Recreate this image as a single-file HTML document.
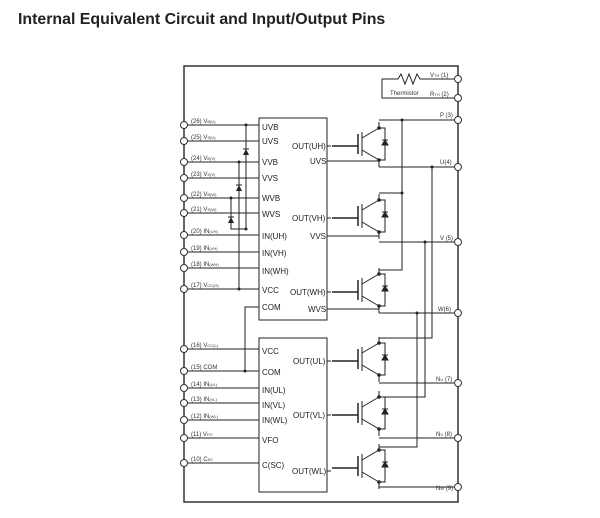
<!DOCTYPE html>
<html><head><meta charset="utf-8"><style>
body{margin:0;background:#fff;width:600px;height:518px;overflow:hidden}
svg{position:absolute;left:0;top:0}
text{font-family:"Liberation Sans",sans-serif}
.t{font-size:6px;fill:#333}
.l{font-size:8px;fill:#222}
</style></head><body>
<svg width="600" height="518" viewBox="0 0 600 518">
<defs>
<g id="ig" stroke="#222" stroke-width="1" fill="none">
<line x1="-30" y1="0" x2="-4" y2="0" stroke-width="1.5"/>
<line x1="-4" y1="-12" x2="-4" y2="8" stroke-width="1.5"/>
<line x1="0" y1="-14" x2="0" y2="10"/>
<line x1="0" y1="-8" x2="17" y2="-18"/>
<line x1="0" y1="4" x2="17" y2="14"/>
<line x1="17" y1="-18" x2="17" y2="-24"/>
<line x1="17" y1="14" x2="17" y2="21"/>
<polyline points="17,-18 23,-18 23,14 17,14"/>
<polygon points="20,-1 26,-1 23,-6" fill="#222"/>
<line x1="20" y1="-6" x2="26" y2="-6"/>
<circle cx="17" cy="-18" r="1.3" fill="#222"/>
<circle cx="17" cy="14" r="1.3" fill="#222"/>
</g>
<g id="dd"><polygon points="-3,3 3,3 0,-3" fill="#222"/><line x1="-3" y1="-3" x2="3" y2="-3" stroke="#222"/></g>
</defs>
<text x="18" y="24" font-size="15.9" font-weight="bold" fill="#222" style="font-family:'Liberation Sans',sans-serif">Internal Equivalent Circuit and Input/Output Pins</text>
<rect x="184" y="66" width="274" height="436" fill="none" stroke="#333" stroke-width="1.5"/>
<g stroke="#222" stroke-width="1" fill="none">
<rect x="259" y="118" width="68" height="202"/>
<rect x="259" y="338" width="68" height="154"/>
<path d="M184 125H259M184 141H259M184 162H259M184 178H259M184 198H259M184 213H259M184 235H259M184 252H259M184 268H259M184 289H259"/>
<path d="M184 349H259M184 371H259M184 388H259M184 403H259M184 420H259M184 438H259M184 463H259"/>
<path d="M246 125V229M239 162V289M231 198V229H246"/>
<path d="M259 307H245V371"/>
<path d="M458 79H420l-3-5-4 10-4-10-4 10-4-10-3 5H382V98H458"/>
<path d="M327 146H331M327 218H331M327 292H331M327 361H331M327 415H331M327 471H331"/>
<path d="M327 161H379M327 236H379M327 309H379"/>
<path d="M379 120H458M402 120V270H379M379 193H402"/>
<path d="M379 167H458M432 167V338H379"/>
<path d="M379 242H458M425 242V397H379"/>
<path d="M379 313H458M417 313V447H379"/>
<path d="M379 383H458M379 438H458M379 487H458"/>
</g>
<g fill="#222">
<circle cx="246" cy="125" r="1.5"/><circle cx="239" cy="162" r="1.5"/><circle cx="231" cy="198" r="1.5"/><circle cx="239" cy="289" r="1.5"/><circle cx="246" cy="229" r="1.5"/><circle cx="245" cy="371" r="1.5"/>
<circle cx="402" cy="120" r="1.5"/><circle cx="402" cy="193" r="1.5"/><circle cx="432" cy="167" r="1.5"/><circle cx="425" cy="242" r="1.5"/><circle cx="417" cy="313" r="1.5"/>
</g>
<use href="#dd" x="246" y="152"/><use href="#dd" x="239" y="188"/><use href="#dd" x="231" y="220"/>
<use href="#ig" x="362" y="146"/>
<use href="#ig" x="362" y="218"/>
<use href="#ig" x="362" y="292"/>
<use href="#ig" x="362" y="361"/>
<use href="#ig" x="362" y="415"/>
<use href="#ig" x="362" y="468"/>
<g fill="#fff" stroke="#333" stroke-width="1">
<circle cx="184" cy="125" r="3.5"/><circle cx="184" cy="141" r="3.5"/><circle cx="184" cy="162" r="3.5"/><circle cx="184" cy="178" r="3.5"/><circle cx="184" cy="198" r="3.5"/><circle cx="184" cy="213" r="3.5"/><circle cx="184" cy="235" r="3.5"/><circle cx="184" cy="252" r="3.5"/><circle cx="184" cy="268" r="3.5"/><circle cx="184" cy="289" r="3.5"/>
<circle cx="184" cy="349" r="3.5"/><circle cx="184" cy="371" r="3.5"/><circle cx="184" cy="388" r="3.5"/><circle cx="184" cy="403" r="3.5"/><circle cx="184" cy="420" r="3.5"/><circle cx="184" cy="438" r="3.5"/><circle cx="184" cy="463" r="3.5"/>
<circle cx="458" cy="79" r="3.5"/><circle cx="458" cy="98" r="3.5"/><circle cx="458" cy="120" r="3.5"/><circle cx="458" cy="167" r="3.5"/><circle cx="458" cy="242" r="3.5"/><circle cx="458" cy="313" r="3.5"/><circle cx="458" cy="383" r="3.5"/><circle cx="458" cy="438" r="3.5"/><circle cx="458" cy="487" r="3.5"/>
</g>
<g class="t">
<text x="191" y="123">(26) V<tspan font-size="4">B(U)</tspan></text>
<text x="191" y="139">(25) V<tspan font-size="4">S(U)</tspan></text>
<text x="191" y="160">(24) V<tspan font-size="4">B(V)</tspan></text>
<text x="191" y="176">(23) V<tspan font-size="4">S(V)</tspan></text>
<text x="191" y="196">(22) V<tspan font-size="4">B(W)</tspan></text>
<text x="191" y="211">(21) V<tspan font-size="4">S(W)</tspan></text>
<text x="191" y="233">(20) IN<tspan font-size="4">(UH)</tspan></text>
<text x="191" y="250">(19) IN<tspan font-size="4">(VH)</tspan></text>
<text x="191" y="266">(18) IN<tspan font-size="4">(WH)</tspan></text>
<text x="191" y="287">(17) V<tspan font-size="4">CC(H)</tspan></text>
<text x="191" y="347">(16) V<tspan font-size="4">CC(L)</tspan></text>
<text x="191" y="369">(15) COM</text>
<text x="191" y="386">(14) IN<tspan font-size="4">(UL)</tspan></text>
<text x="191" y="401">(13) IN<tspan font-size="4">(VL)</tspan></text>
<text x="191" y="418">(12) IN<tspan font-size="4">(WL)</tspan></text>
<text x="191" y="436">(11) V<tspan font-size="4">FO</tspan></text>
<text x="191" y="461">(10) C<tspan font-size="4">SC</tspan></text>
<text x="430" y="77">V<tspan font-size="4">TH</tspan> (1)</text>
<text x="390" y="95">Thermistor</text>
<text x="430" y="96">R<tspan font-size="4">TH</tspan> (2)</text>
<text x="440" y="117">P (3)</text>
<text x="440" y="164">U(4)</text>
<text x="440" y="240">V (5)</text>
<text x="438" y="311">W(6)</text>
<text x="436" y="381">N<tspan font-size="4">U</tspan> (7)</text>
<text x="436" y="436">N<tspan font-size="4">V</tspan> (8)</text>
<text x="436" y="490">N<tspan font-size="4">W</tspan> (9)</text>
</g>
<g class="l">
<text x="262" y="130">UVB</text><text x="262" y="144">UVS</text><text x="262" y="165">VVB</text><text x="262" y="181">VVS</text><text x="262" y="201">WVB</text><text x="262" y="217">WVS</text><text x="262" y="239">IN(UH)</text><text x="262" y="256">IN(VH)</text><text x="262" y="274">IN(WH)</text><text x="262" y="293">VCC</text><text x="262" y="310">COM</text>
<text x="292" y="149">OUT(UH)</text><text x="310" y="164">UVS</text><text x="292" y="221">OUT(VH)</text><text x="310" y="239">VVS</text><text x="290" y="295">OUT(WH)</text><text x="308" y="312">WVS</text>
<text x="262" y="354">VCC</text><text x="262" y="375">COM</text><text x="262" y="393">IN(UL)</text><text x="262" y="408">IN(VL)</text><text x="262" y="423">IN(WL)</text><text x="262" y="443">VFO</text><text x="262" y="468">C(SC)</text>
<text x="293" y="364">OUT(UL)</text><text x="293" y="418">OUT(VL)</text><text x="292" y="474">OUT(WL)</text>
</g>
</svg>
</body></html>
